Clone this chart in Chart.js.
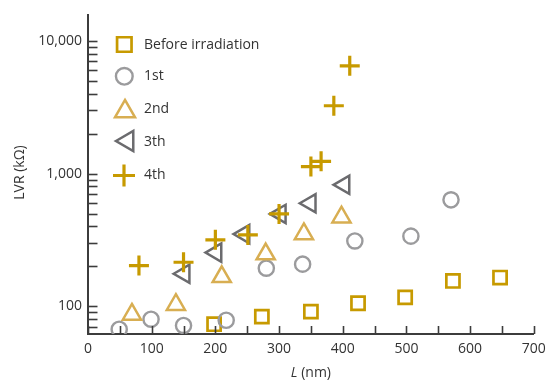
<!DOCTYPE html>
<html>
<head>
<meta charset="utf-8">
<script src="https://cdn.jsdelivr.net/npm/chart.js@4/dist/chart.umd.min.js"></script>
<style>
  html, body { margin: 0; padding: 0; background: #fff; }
  #wrap { width: 547px; height: 382px; }
</style>
</head>
<body>
<div id="wrap"><canvas id="c" width="547" height="382"></canvas></div>
<script>
// ---- data ----
const seriesNames = ['Before irradiation', '1st', '2nd', '3th', '4th'];
const beforeX = [198, 273, 350, 424, 498, 573, 647];
const beforeY = [73.5, 83.8, 91.4, 105.7, 117, 155.6, 164.8];
const firstX  = [49, 99, 150, 217, 280, 337, 419, 507, 570];
const firstY  = [67.4, 80.1, 71.9, 78.7, 194, 208, 311, 338, 634];
const secondX = [69, 138, 210, 279, 339, 398];
const secondY = [87, 103, 167, 248, 351, 469];
const thirdX  = [151, 201, 245, 302, 349, 402];
const thirdY  = [176, 254, 350, 497, 598, 822];
const fourthX = [80, 150, 200, 251, 300, 350, 366, 386, 411];
const fourthY = [203, 215, 317, 345, 497, 1129, 1236, 3236, 6470];
const xTickValues = [0, 50, 100, 150, 200, 250, 300, 350, 400, 450, 500, 550, 600, 650, 700];
const xTickLabels = [0, 100, 200, 300, 400, 500, 600, 700];
const yTickValues = [70, 80, 90, 100, 200, 300, 400, 500, 600, 700, 800, 900,
                     1000, 2000, 3000, 4000, 5000, 6000, 7000, 8000, 9000, 10000];
const yTickLabels = [100, 1000, 10000];

// ---- styles ----
const FONT = '"Open Sans", Lato, "DejaVu Sans", sans-serif';
const FS = 14;
const TEXT = '#333333';
const AXIS = '#3c3c3c';
const styles = [
  { color: '#C79A00', pointStyle: 'rect',     rotation: 0,   radius: 9.3, width: 2.7 },
  { color: '#9B9B9D', pointStyle: 'circle',   rotation: 0,   radius: 7.6, width: 2.4 },
  { color: '#D8AE52', pointStyle: 'triangle', rotation: 0,   radius: 10.5, width: 2.5 },
  { color: '#6B6B6E', pointStyle: 'triangle', rotation: -90, radius: 10.5, width: 2.5 },
  { color: '#C79A00', pointStyle: 'cross',    rotation: 0,   radius: 10,  width: 3.2 }
];
const xs = [beforeX, firstX, secondX, thirdX, fourthX];
const ys = [beforeY, firstY, secondY, thirdY, fourthY];

const datasets = seriesNames.map((name, i) => ({
  label: name,
  data: xs[i].map((x, k) => ({ x: x, y: ys[i][k] })),
  showLine: false,
  pointStyle: styles[i].pointStyle,
  rotation: styles[i].rotation,
  pointRadius: styles[i].radius,
  pointHoverRadius: styles[i].radius,
  borderColor: styles[i].color,
  backgroundColor: 'rgba(0,0,0,0)',
  pointBorderWidth: styles[i].width,
  borderWidth: styles[i].width,
  order: 4 - i
}));

function drawMarker(ctx, st, x, y, scale) {
  ctx.save();
  ctx.strokeStyle = st.color;
  ctx.fillStyle = 'rgba(0,0,0,0)';
  ctx.lineWidth = st.width;
  const opts = { pointStyle: st.pointStyle, rotation: st.rotation, radius: st.radius * scale, borderWidth: st.width };
  if (Chart.helpers && Chart.helpers.drawPoint) {
    Chart.helpers.drawPoint(ctx, opts, x, y);
  } else {
    const r = st.radius * scale;
    ctx.beginPath();
    if (st.pointStyle === 'rect') {
      const s = Math.SQRT1_2 * r; ctx.rect(x - s, y - s, 2 * s, 2 * s);
    } else if (st.pointStyle === 'circle') {
      ctx.arc(x, y, r, 0, Math.PI * 2);
    } else if (st.pointStyle === 'triangle') {
      let rad = st.rotation * Math.PI / 180;
      for (let k = 0; k < 3; k++) {
        const px = x + Math.sin(rad) * r, py = y - Math.cos(rad) * r;
        if (k === 0) ctx.moveTo(px, py); else ctx.lineTo(px, py);
        rad += 2 * Math.PI / 3;
      }
      ctx.closePath();
    } else {
      ctx.moveTo(x - r, y); ctx.lineTo(x + r, y); ctx.moveTo(x, y - r); ctx.lineTo(x, y + r);
    }
    ctx.stroke();
  }
  ctx.restore();
}

const decorPlugin = {
  id: 'decor',
  afterDraw(chart) {
    const ctx = chart.ctx;
    const xS = chart.scales.x, yS = chart.scales.y;
    const area = chart.chartArea;
    ctx.save();
    // inward tick marks
    ctx.strokeStyle = AXIS;
    ctx.lineWidth = 1.6;
    xS.ticks.forEach(t => {
      const px = Math.round(xS.getPixelForValue(t.value)) + 0.5;
      ctx.beginPath(); ctx.moveTo(px, area.bottom); ctx.lineTo(px, area.bottom - 8); ctx.stroke();
    });
    yS.ticks.forEach(t => {
      const py = Math.round(yS.getPixelForValue(t.value)) + 0.5;
      ctx.beginPath(); ctx.moveTo(area.left, py); ctx.lineTo(area.left + 9.5, py); ctx.stroke();
    });
    // axis titles
    ctx.fillStyle = TEXT;
    ctx.textBaseline = 'middle';
    ctx.save();
    ctx.translate(20, (area.top + area.bottom) / 2 - 2);
    ctx.rotate(-Math.PI / 2);
    ctx.textAlign = 'center';
    ctx.font = FS + 'px ' + FONT;
    ctx.fillText('LVR (k\u03A9)', 0, 0);
    ctx.restore();
    const cx = (area.left + area.right) / 2;
    ctx.font = 'italic ' + FS + 'px ' + FONT;
    const wL = ctx.measureText('L').width;
    ctx.font = FS + 'px ' + FONT;
    const rest = ' (nm)';
    const wR = ctx.measureText(rest).width;
    const startX = cx - (wL + wR) / 2;
    ctx.textAlign = 'left';
    ctx.font = 'italic ' + FS + 'px ' + FONT;
    ctx.fillText('L', startX, 373);
    ctx.font = FS + 'px ' + FONT;
    ctx.fillText(rest, startX + wL, 373);
    // legend
    const rowsY = [45.3, 76.3, 109, 142.5, 175.5];
    const markerY = [44.5, 76.3, 111.5, 141, 175.5];
    const markerX = [124.3, 124.3, 125, 127.5, 124];
    seriesNames.forEach((name, i) => {
      drawMarker(ctx, styles[i], markerX[i], markerY[i], 1.1);
      ctx.fillStyle = TEXT;
      ctx.font = FS + 'px ' + FONT;
      ctx.textAlign = 'left';
      ctx.textBaseline = 'middle';
      ctx.fillText(name, 144, rowsY[i]);
    });
    ctx.restore();
  }
};

new Chart(document.getElementById('c'), {
  type: 'scatter',
  data: { datasets: datasets },
  options: {
    responsive: false,
    animation: false,
    devicePixelRatio: 1,
    layout: { padding: { left: 0, right: 10, top: 15, bottom: 0 } },
    plugins: { legend: { display: false }, tooltip: { enabled: false } },
    scales: {
      x: {
        type: 'linear',
        min: 0, max: 700,
        afterBuildTicks: s => { s.ticks = xTickValues.map(v => ({ value: v })); },
        afterFit: s => { s.height = 48; s.paddingLeft = 0; s.paddingRight = 0; },
        grid: { display: false, drawTicks: false },
        border: { display: true, color: AXIS, width: 2 },
        ticks: {
          autoSkip: false, maxRotation: 0, padding: 7,
          color: TEXT, font: { family: FONT, size: FS },
          callback: v => xTickLabels.includes(v) ? String(v) : ''
        },
        title: { display: false }
      },
      y: {
        type: 'logarithmic',
        min: 62, max: 15600,
        afterBuildTicks: s => { s.ticks = yTickValues.map(v => ({ value: v })); },
        afterFit: s => { s.width = 88; s.paddingTop = 0; s.paddingBottom = 0; },
        grid: { display: false, drawTicks: false },
        border: { display: true, color: AXIS, width: 2 },
        ticks: {
          autoSkip: false, padding: 6,
          color: TEXT, font: { family: FONT, size: FS },
          callback: v => yTickLabels.includes(v) ? v.toLocaleString('en-US') : ''
        },
        title: { display: false }
      }
    }
  },
  plugins: [decorPlugin]
});
</script>
</body>
</html>
